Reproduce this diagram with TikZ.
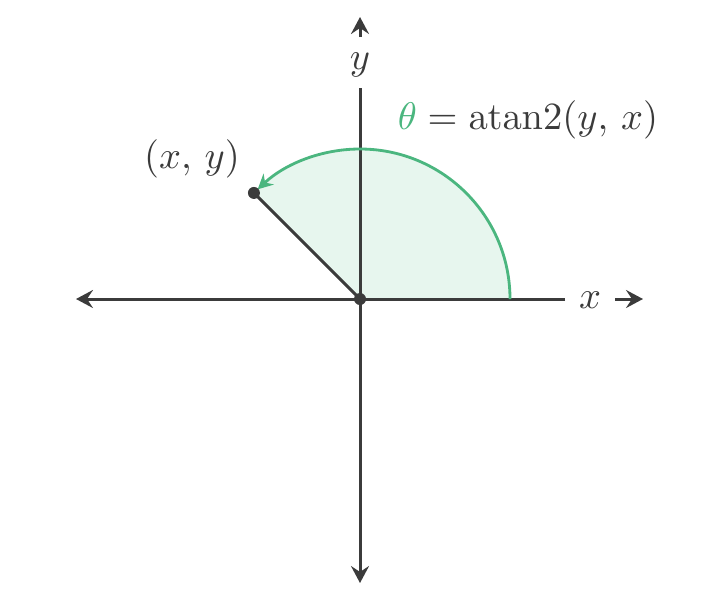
\documentclass[tikz,border=0pt]{standalone}
\usepackage{xcolor}
\usetikzlibrary{arrows.meta,positioning}
\definecolor{axisgray}{HTML}{3B3B3B}
\definecolor{anglegreen}{HTML}{4BB67F}
\definecolor{anglefill}{HTML}{E7F6EE}
\tikzstyle{axis} = [draw=axisgray, line width=0.85pt, -{Stealth[length=1.7mm, width=1.8mm, inset=0.6mm]}]
\tikzstyle{angleline} = [draw=anglegreen, line width=0.8pt, -{Stealth[length=1.5mm, width=1.5mm, inset=0.5mm]}]
\tikzstyle{mathlabel} = [text=axisgray, font=\fontsize{11}{13}\selectfont]
\tikzstyle{pointdot} = [circle, fill=axisgray, inner sep=0pt, minimum size=1.2mm]

\begin{document}
\begin{tikzpicture}[auto]
		\useasboundingbox (-3.6,-3.01) rectangle (3.6,2.99);
		
		\fill [anglefill] (0,0) -- (1.5,0) arc (0:135:1.5) -- cycle;
		
		\coordinate (xend) at (2.05,0);
		\coordinate (xleft) at (-2.84,0);
		\coordinate (yend) at (0,2.11);
		\coordinate (ydown) at (0,-2.84);
		\coordinate (xtail) at (2.55,0);
		\coordinate (xtip) at (2.83,0);
		\coordinate (ytail) at (0,2.62);
		\coordinate (ytip) at (0,2.82);
		
		\path [axis] (xend) -- (xleft);
		\path [axis] (yend) -- (ydown);
		\path [axis] (xtail) -- (xtip);
		\path [axis] (ytail) -- (ytip);
		\node [mathlabel] (xlab) at (2.30,-0.01) {$x$};
		\node [mathlabel] (ylab) at (0,2.34) {$y$};
		
		\path [angleline] (1.5,0) arc (0:133:1.5);
		
		\node [pointdot] (O) at (0,0) {};
		\node [pointdot] (P) at (135:1.5) {};
		\draw [axisgray, line width=0.85pt] (O.center) -- (P.center);
		
		\node [mathlabel] (plab) at (-1.68,1.40) {$(x,\, y)$};
		\node [mathlabel] (formula) at (1.68,1.79) {$\textcolor{anglegreen}{\theta} = \mathrm{atan2}(y,\, x)$};
	\end{tikzpicture}
\end{document}
